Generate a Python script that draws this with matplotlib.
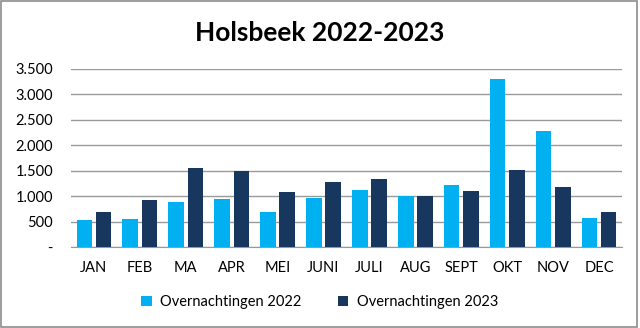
import matplotlib.pyplot as plt
import numpy as np
from matplotlib.patches import Rectangle
from matplotlib.ticker import FuncFormatter

months = ['JAN', 'FEB', 'MA', 'APR', 'MEI', 'JUNI', 'JULI', 'AUG', 'SEPT', 'OKT', 'NOV', 'DEC']
nights_2022 = [530, 550, 885, 945, 680, 955, 1120, 995, 1210, 3295, 2290, 575]
nights_2023 = [690, 930, 1545, 1495, 1085, 1270, 1330, 1000, 1095, 1510, 1180, 695]

plt.rcParams['font.family'] = ['Lato', 'DejaVu Sans']

fig = plt.figure(figsize=(6.4, 3.28), dpi=100)
ax = fig.add_axes([71 / 640, 1 - 247 / 328, 551 / 640, 178 / 328])

x = np.arange(len(months))
w = 0.34
ax.bar(x - 0.21, nights_2022, w, color='#00B0F0', label='Overnachtingen 2022', zorder=3)
ax.bar(x + 0.21, nights_2023, w, color='#17375E', label='Overnachtingen 2023', zorder=3)

ax.set_xlim(-0.5, len(months) - 0.5)
ax.set_ylim(0, 3500)
ax.set_yticks(np.arange(0, 3501, 500))
ax.yaxis.set_major_formatter(FuncFormatter(
    lambda v, p: '-' if v == 0 else f'{int(v):,}'.replace(',', '.')))
ax.set_xticks(x)
ax.set_xticklabels(months)
ax.grid(axis='y', color='#999999', linewidth=1, zorder=0)
for s in ['top', 'right', 'left']:
    ax.spines[s].set_visible(False)
ax.spines['bottom'].set_color('#999999')
ax.tick_params(axis='both', length=0, labelsize=10.5, colors='#000000')
ax.tick_params(axis='x', pad=10)
ax.tick_params(axis='y', pad=13)

fig.text(0.5, 1 - 33 / 328, 'Holsbeek 2022-2023', ha='center', va='center',
         fontsize=19, fontweight='bold')
fig.legend(loc='center', bbox_to_anchor=(0.5, 1 - 302 / 328), ncol=2, frameon=False,
           fontsize=10.5, handlelength=0.7, handleheight=0.7, columnspacing=2.5,
           handletextpad=0.6)

fig.patches.append(Rectangle((0.002, 0.002), 0.993, 0.995, transform=fig.transFigure,
                             fill=False, edgecolor='#8C8C8C', linewidth=1.2))

fig.savefig('out.png', dpi=100)
